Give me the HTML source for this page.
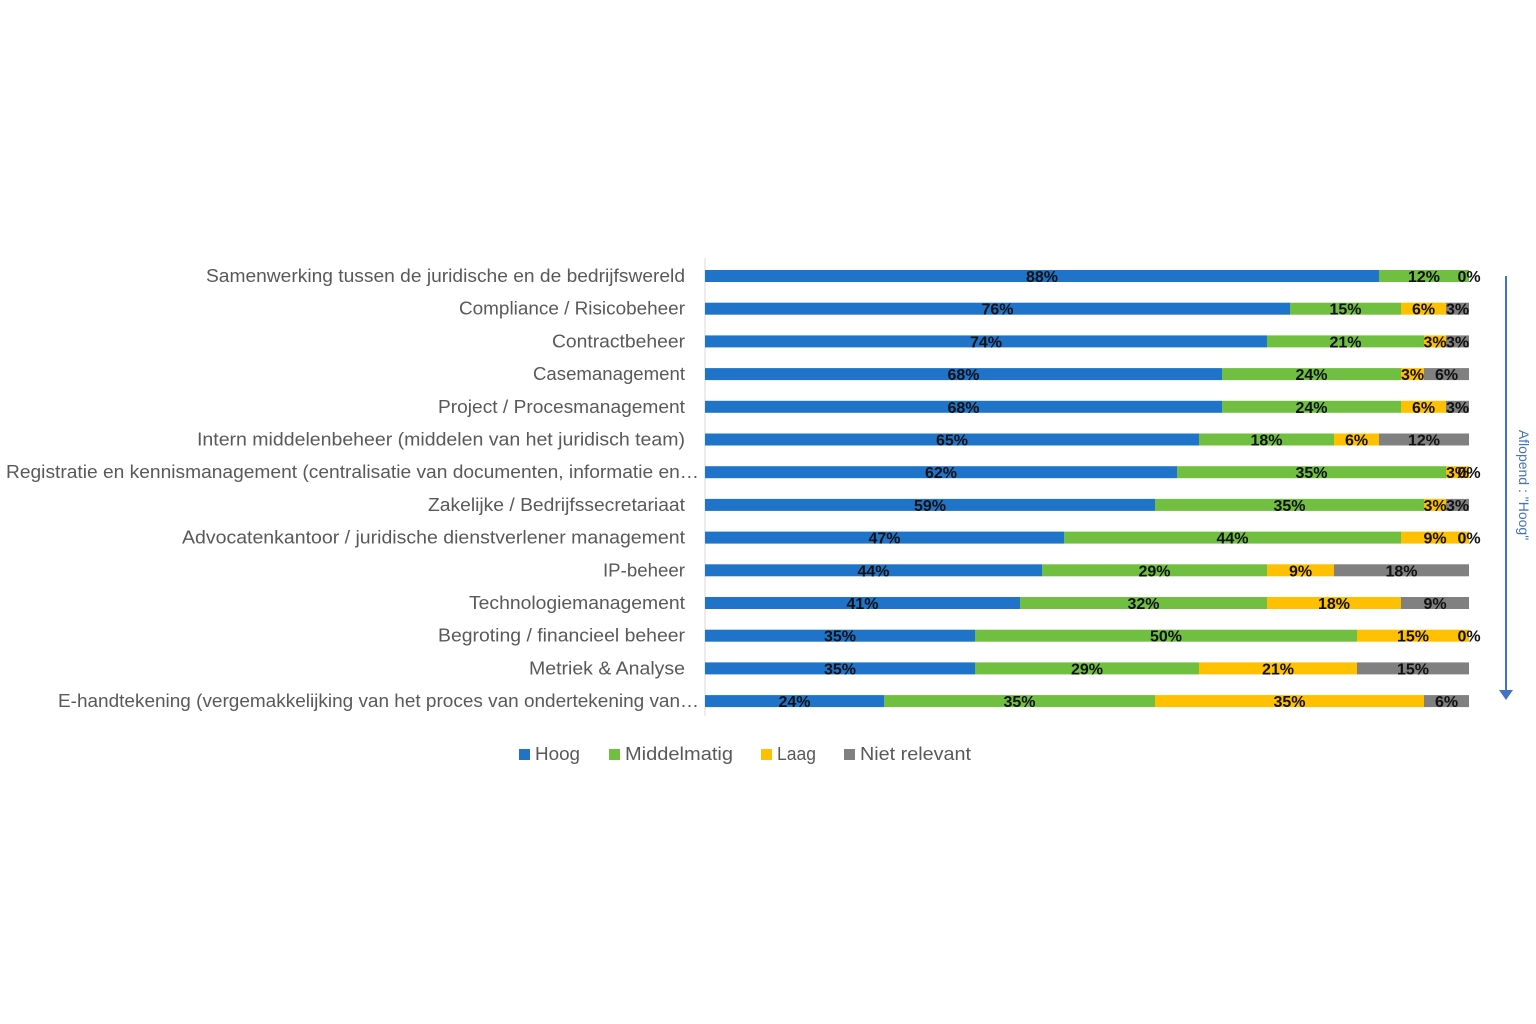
<!DOCTYPE html>
<html><head><meta charset="utf-8"><style>
html,body{margin:0;padding:0;background:#fff;}
svg{display:block;}
.c{font-family:"Liberation Sans",sans-serif;font-size:18px;fill:#595959;}
.d{font-family:"Liberation Sans",sans-serif;font-size:16px;font-weight:bold;fill:#111;}
</style></head><body>
<svg width="1536" height="1024" viewBox="0 0 1536 1024" xmlns="http://www.w3.org/2000/svg">
<line x1="705" y1="258" x2="705" y2="716" stroke="#d9d9d9" stroke-width="1"/>
<g id="bars"></g>
<line x1="1506" y1="276" x2="1506" y2="692" stroke="#4472C4" stroke-width="2"/>
<polygon points="1499,690 1513,690 1506,700" fill="#4472C4"/>
<text transform="translate(1519,485) rotate(90)" text-anchor="middle" font-family="Liberation Sans,sans-serif" font-size="14" fill="#4472C4">Aflopend : "Hoog"</text>
<rect x="519" y="749" width="11" height="11" fill="#1F74C9"/>
<text x="535" y="760" class="c" textLength="45" lengthAdjust="spacingAndGlyphs">Hoog</text>
<rect x="609" y="749" width="11" height="11" fill="#70BF41"/>
<text x="625" y="760" class="c" textLength="108" lengthAdjust="spacingAndGlyphs">Middelmatig</text>
<rect x="761" y="749" width="11" height="11" fill="#FFC000"/>
<text x="777" y="760" class="c" textLength="39" lengthAdjust="spacingAndGlyphs">Laag</text>
<rect x="844" y="749" width="11" height="11" fill="#808080"/>
<text x="860" y="760" class="c" textLength="111" lengthAdjust="spacingAndGlyphs">Niet relevant</text>
</svg>
<script>
var rows=[
["Samenwerking tussen de juridische en de bedrijfswereld",206,[1379,1469,1469,1469],["88%","12%","","0%"]],
["Compliance / Risicobeheer",459,[1290,1401,1446,1469],["76%","15%","6%","3%"]],
["Contractbeheer",552,[1267,1424,1446,1469],["74%","21%","3%","3%"]],
["Casemanagement",533,[1222,1401,1424,1469],["68%","24%","3%","6%"]],
["Project / Procesmanagement",438,[1222,1401,1446,1469],["68%","24%","6%","3%"]],
["Intern middelenbeheer (middelen van het juridisch team)",197,[1199,1334,1379,1469],["65%","18%","6%","12%"]],
["Registratie en kennismanagement (centralisatie van documenten, informatie en…",6,[1177,1446,1469,1469],["62%","35%","3%","0%"]],
["Zakelijke / Bedrijfssecretariaat",428,[1155,1424,1446,1469],["59%","35%","3%","3%"]],
["Advocatenkantoor / juridische dienstverlener management",182,[1064,1401,1469,1469],["47%","44%","9%","0%"]],
["IP-beheer",603,[1042,1267,1334,1469],["44%","29%","9%","18%"]],
["Technologiemanagement",469,[1020,1267,1401,1469],["41%","32%","18%","9%"]],
["Begroting / financieel beheer",438,[975,1357,1469,1469],["35%","50%","15%","0%"]],
["Metriek & Analyse",529,[975,1199,1357,1469],["35%","29%","21%","15%"]],
["E-handtekening (vergemakkelijking van het proces van ondertekening van…",58,[884,1155,1424,1469],["24%","35%","35%","6%"]]
];
var cols=["#1F74C9","#70BF41","#FFC000","#808080"];
var g=document.getElementById("bars"),s="";
rows.forEach(function(r,i){
 var y=276+i*32.7;
 var end=(i==6||i==13)?699:685;
 s+='<text class="c" x="'+r[1]+'" y="'+(y+6)+'" textLength="'+(end-r[1])+'" lengthAdjust="spacingAndGlyphs">'+r[0].replace("&","&amp;")+'</text>';
 var x0=705;
 for(var k=0;k<4;k++){
  var x1=r[2][k];
  if(x1>x0) s+='<rect x="'+x0+'" y="'+(y-6)+'" width="'+(x1-x0)+'" height="12" fill="'+cols[k]+'"/>';
  if(r[3][k]){
   var cx=(x0+x1)/2;
   if(r[3][k]=="0%"){cx=1469;}
   s+='<text class="d" x="'+cx+'" y="'+(y+6)+'" text-anchor="middle">'+r[3][k]+'</text>';
  }
  x0=Math.max(x0,x1);
 }
});
g.innerHTML=s;
</script>
</body></html>
